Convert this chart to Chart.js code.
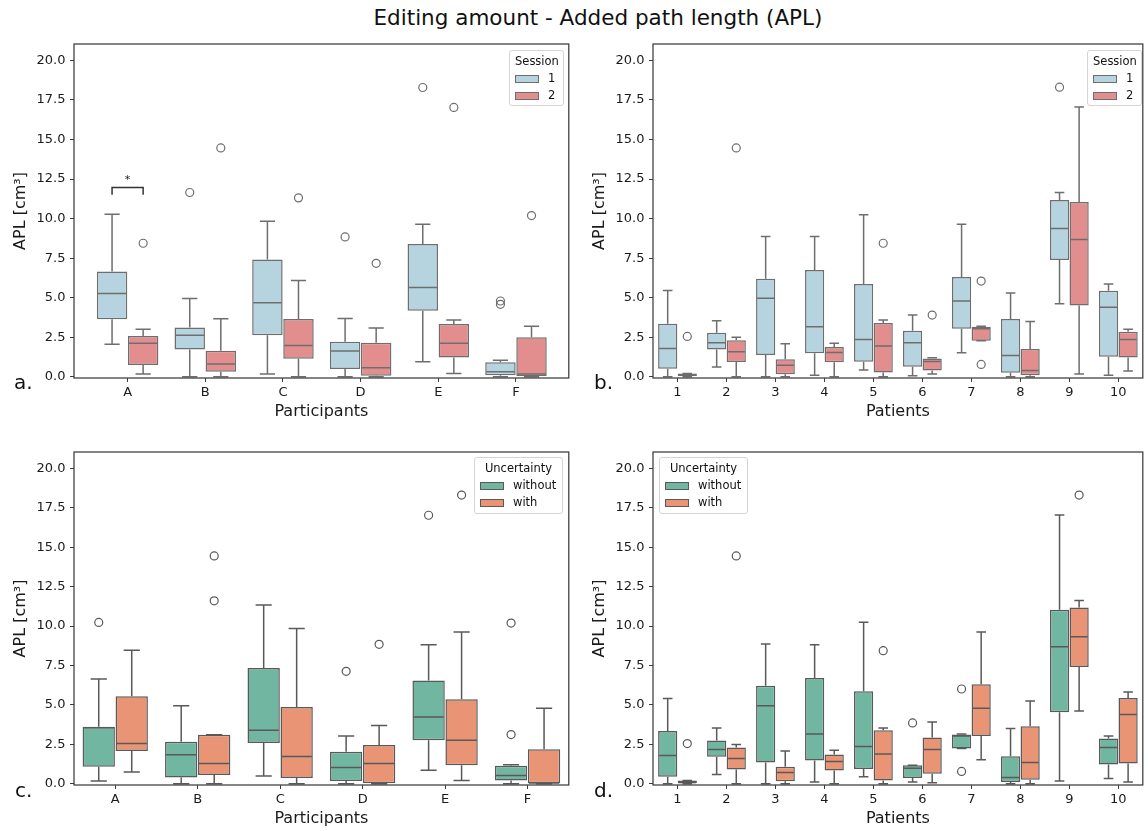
<!DOCTYPE html>
<html lang="en">
<head>
<meta charset="utf-8">
<title>Editing amount - Added path length (APL)</title>
<script src="https://cdn.jsdelivr.net/npm/chart.js"></script>
<style>
  body { margin: 0; background: #fff; font-family: "DejaVu Sans", sans-serif; color: #111; }
  #page { position: relative; width: 1148px; height: 831px; overflow: hidden; }
  canvas { position: absolute; }
  .title { position: absolute; top: 5px; left: 298px; width: 600px; text-align: center; font-size: 21.5px; line-height: 26px; white-space: nowrap; }
  .letter { position: absolute; font-size: 20px; line-height: 24px; }
  .legend { position: absolute; border: 1px solid #d4d4d4; border-radius: 3px; background: rgba(255,255,255,0.85);
            font-size: 11.5px; line-height: 17px; padding: 2px 5px 0 5px; box-sizing: border-box; }
  .legend .lt { text-align: center; }
  .legend .row { display: flex; align-items: center; white-space: nowrap; }
  .legend .sw { width: 24px; height: 8px; margin-right: 9px; border: 1px solid #666; box-sizing: border-box; }
</style>
</head>
<body>
<div id="page">
  <div class="title">Editing amount - Added path length (APL)</div>

  <canvas id="chartA" width="574" height="430" style="left:0;top:0"></canvas>
  <canvas id="chartB" width="574" height="430" style="left:574px;top:0"></canvas>
  <canvas id="chartC" width="574" height="401" style="left:0;top:430px"></canvas>
  <canvas id="chartD" width="574" height="401" style="left:574px;top:430px"></canvas>

  <div class="letter" style="left:14px;top:370px">a.</div>
  <div class="letter" style="left:594px;top:370px">b.</div>
  <div class="letter" style="left:15px;top:778px">c.</div>
  <div class="letter" style="left:594px;top:778px">d.</div>

  <div class="legend" style="left:509px;top:50px;width:55px;height:56px">
    <div class="lt">Session</div>
    <div class="row"><span class="sw" style="background:#b5d4df;border-color:#6e6e6e"></span>1</div>
    <div class="row"><span class="sw" style="background:#e28e8e;border-color:#6e6e6e"></span>2</div>
  </div>
  <div class="legend" style="left:1087px;top:50px;width:55px;height:56px">
    <div class="lt">Session</div>
    <div class="row"><span class="sw" style="background:#b5d4df;border-color:#6e6e6e"></span>1</div>
    <div class="row"><span class="sw" style="background:#e28e8e;border-color:#6e6e6e"></span>2</div>
  </div>
  <div class="legend" style="left:474px;top:457px;width:89px;height:57px">
    <div class="lt">Uncertainty</div>
    <div class="row"><span class="sw" style="background:#71b6a1;border-color:#595959"></span>without</div>
    <div class="row"><span class="sw" style="background:#e99575;border-color:#595959"></span>with</div>
  </div>
  <div class="legend" style="left:659px;top:457px;width:89px;height:57px">
    <div class="lt">Uncertainty</div>
    <div class="row"><span class="sw" style="background:#71b6a1;border-color:#595959"></span>without</div>
    <div class="row"><span class="sw" style="background:#e99575;border-color:#595959"></span>with</div>
  </div>
</div>

<script>
// categories
const participants = ['A', 'B', 'C', 'D', 'E', 'F'];
const patients = ['1', '2', '3', '4', '5', '6', '7', '8', '9', '10'];
const yTicks = [0, 2.5, 5, 7.5, 10, 12.5, 15, 17.5, 20];

// each box: [lower whisker, Q1, median, Q3, upper whisker]
// a. participants by session
const partSession1 = [[2.05, 3.63, 5.27, 6.65, 10.27], [0, 1.73, 2.62, 3.12, 4.94], [0.17, 2.62, 4.68, 7.41, 9.83],
                      [0, 0.49, 1.62, 2.22, 3.69], [0.95, 4.18, 5.65, 8.40, 9.64], [0, 0.10, 0.32, 0.91, 1.05]];
const partSession1Out = [[], [11.65], [], [8.84], [18.29], [4.79, 4.58]];
const partSession2 = [[0.17, 0.74, 2.11, 2.57, 3.0], [0, 0.32, 0.80, 1.65, 3.67], [0, 1.14, 1.98, 3.65, 6.08],
                      [0, 0.06, 0.57, 2.15, 3.08], [0.21, 1.22, 2.11, 3.33, 3.59], [0, 0.04, 0.17, 2.49, 3.2]];
const partSession2Out = [[8.44], [14.47], [11.31], [7.17], [17.03], [10.19]];

// b. patients by session
const patSession1 = [[0, 0.5, 1.79, 3.35, 5.46], [0.61, 1.73, 2.15, 2.78, 3.54], [0, 1.37, 4.96, 6.20, 8.86],
                     [0.1, 1.48, 3.16, 6.75, 8.86], [0.42, 0.95, 2.36, 5.86, 10.25], [0.06, 0.63, 2.15, 2.91, 3.90],
                     [1.52, 3.04, 4.79, 6.31, 9.64], [0, 0.25, 1.35, 3.65, 5.30], [4.62, 7.38, 9.37, 11.18, 11.65],
                     [0.1, 1.27, 4.39, 5.44, 5.86]];
const patSession1Out = [[], [], [], [], [], [], [], [], [18.31], []];
const patSession2 = [[0, 0.04, 0.1, 0.21, 0.21], [0, 0.93, 1.58, 2.30, 2.49], [0, 0.15, 0.72, 1.10, 2.09],
                     [0, 0.91, 1.54, 1.88, 2.11], [0, 0.27, 1.94, 3.40, 3.59], [0.17, 0.40, 0.97, 1.16, 1.20],
                     [2.28, 2.28, 3.04, 3.16, 3.2], [0, 0.1, 0.40, 1.75, 3.50], [0.17, 4.51, 8.67, 11.05, 17.05],
                     [0.36, 1.22, 2.36, 2.85, 3.0]];
const patSession2Out = [[2.55], [14.47], [], [], [8.44], [3.90], [6.05, 0.78], [], [], []];

// c. participants by uncertainty
const partWithout = [[0.17, 1.08, 3.55, 3.61, 6.65], [0, 0.40, 1.84, 2.66, 4.94], [0.49, 2.59, 3.40, 7.34, 11.33],
                     [0, 0.17, 1.03, 2.03, 3.02], [0.86, 2.76, 4.24, 6.54, 8.82], [0, 0.21, 0.53, 1.14, 1.20]];
const partWithoutOut = [[10.23], [], [], [7.13], [17.03], [3.12, 10.19]];
const partWith = [[0.74, 2.07, 2.55, 5.55, 8.46], [0, 0.55, 1.29, 3.10, 3.10], [0, 0.36, 1.73, 4.87, 9.85],
                  [0, 0, 1.29, 2.45, 3.69], [0.21, 1.18, 2.76, 5.36, 9.62], [0, 0, 0.04, 2.19, 4.79]];
const partWithOut = [[], [14.45, 11.60], [], [8.84], [18.31], []];

// d. patients by uncertainty
const patWithout = [[0, 0.44, 1.79, 3.35, 5.40], [0.59, 1.71, 2.17, 2.74, 3.54], [0, 1.35, 4.94, 6.22, 8.86],
                    [0.11, 1.48, 3.16, 6.71, 8.82], [0.44, 0.93, 2.36, 5.86, 10.25], [0.11, 0.36, 0.99, 1.18, 1.18],
                    [2.24, 2.24, 3.02, 3.12, 3.16], [0, 0.11, 0.40, 1.75, 3.50], [0.17, 4.54, 8.69, 11.03, 17.05],
                    [0.34, 1.22, 2.30, 2.87, 3.02]];
const patWithoutOut = [[], [], [], [], [], [3.86], [6.01, 0.78], [], [], []];
const patWith = [[0, 0, 0.08, 0.21, 0.21], [0, 0.91, 1.60, 2.30, 2.49], [0, 0.15, 0.72, 1.08, 2.07],
                 [0, 0.84, 1.41, 1.86, 2.13], [0, 0.21, 1.88, 3.40, 3.54], [0.06, 0.63, 2.17, 2.93, 3.92],
                 [1.52, 3.02, 4.79, 6.31, 9.62], [0, 0.25, 1.35, 3.65, 5.25], [4.62, 7.41, 9.32, 11.18, 11.62],
                 [0.11, 1.29, 4.39, 5.44, 5.82]];
const patWithOut = [[2.55], [14.45], [], [], [8.44], [], [], [], [18.31], []];

// significance marker in panel a (participant A, session 1 vs 2)
const sigA = { cat: 0, y: 11.96, drop: 0.46, label: '*' };

Chart.defaults.font.family = '"DejaVu Sans", sans-serif';
Chart.defaults.color = '#1a1a1a';

// whiskers, caps and medians on top of the floating bars
const boxWhiskers = {
  id: 'boxWhiskers',
  afterDatasetsDraw(chart) {
    const ctx = chart.ctx;
    const yS = chart.scales.y;
    chart.data.datasets.forEach((ds, di) => {
      if (!ds.stats) return;
      const meta = chart.getDatasetMeta(di);
      ctx.save();
      ctx.strokeStyle = ds.borderColor;
      ctx.lineWidth = 1.5;
      meta.data.forEach((bar, i) => {
        const s = ds.stats[i];
        const p = bar.getProps(['x', 'width'], true);
        const cap = p.width / 4;
        const yLo = yS.getPixelForValue(s[0]), yQ1 = yS.getPixelForValue(s[1]);
        const yMed = yS.getPixelForValue(s[2]);
        const yQ3 = yS.getPixelForValue(s[3]), yHi = yS.getPixelForValue(s[4]);
        ctx.beginPath();
        ctx.moveTo(p.x, yQ1); ctx.lineTo(p.x, yLo);
        ctx.moveTo(p.x - cap, yLo); ctx.lineTo(p.x + cap, yLo);
        ctx.moveTo(p.x, yQ3); ctx.lineTo(p.x, yHi);
        ctx.moveTo(p.x - cap, yHi); ctx.lineTo(p.x + cap, yHi);
        ctx.moveTo(p.x - p.width / 2 + 1, yMed); ctx.lineTo(p.x + p.width / 2 - 1, yMed);
        ctx.stroke();
      });
      ctx.restore();
    });

    const sig = chart.options.plugins.sigBracket;
    if (sig && sig.label) {
      const b1 = chart.getDatasetMeta(0).data[sig.cat];
      const b2 = chart.getDatasetMeta(1).data[sig.cat];
      const yTop = yS.getPixelForValue(sig.y), yBot = yS.getPixelForValue(sig.y - sig.drop);
      ctx.save();
      ctx.strokeStyle = '#333';
      ctx.lineWidth = 1.5;
      ctx.beginPath();
      ctx.moveTo(b1.x, yBot); ctx.lineTo(b1.x, yTop); ctx.lineTo(b2.x, yTop); ctx.lineTo(b2.x, yBot);
      ctx.stroke();
      ctx.fillStyle = '#1a1a1a';
      ctx.font = '11px "DejaVu Sans"';
      ctx.textAlign = 'center';
      ctx.textBaseline = 'bottom';
      ctx.fillText(sig.label, (b1.x + b2.x) / 2, yTop - 2);
      ctx.restore();
    }
  }
};

// full box around the axes like matplotlib
const frame = {
  id: 'frame',
  afterDraw(chart) {
    const a = chart.chartArea;
    const ctx = chart.ctx;
    ctx.save();
    ctx.strokeStyle = '#3c3c3c';
    ctx.lineWidth = 1.25;
    ctx.strokeRect(a.left, a.top, a.right - a.left, a.bottom - a.top);
    ctx.restore();
  }
};

function boxSet(label, boxes, color, edge) {
  return {
    type: 'bar',
    label: label,
    data: boxes.map((b, i) => ({ x: i, y: [b[1], b[3]] })),
    stats: boxes,
    backgroundColor: color,
    borderColor: edge,
    borderWidth: 1.5,
    borderSkipped: false,
    categoryPercentage: 0.8,
    barPercentage: 0.98,
    order: 2
  };
}

function outlierSet(outs, offset, edge) {
  const pts = [];
  outs.forEach((vals, i) => vals.forEach(v => pts.push({ x: i + offset, y: v })));
  return {
    type: 'scatter',
    data: pts,
    pointRadius: 4,
    pointBorderWidth: 1.2,
    borderColor: edge,
    backgroundColor: 'rgba(0,0,0,0)',
    order: 1
  };
}

function makePanel(id, p) {
  const cats = p.cats;
  new Chart(document.getElementById(id), {
    data: {
      datasets: [
        boxSet(p.names[0], p.s1, p.colors[0], p.edge),
        boxSet(p.names[1], p.s2, p.colors[1], p.edge),
        outlierSet(p.o1, -0.2, p.edge),
        outlierSet(p.o2, 0.2, p.edge)
      ]
    },
    options: {
      responsive: false,
      animation: false,
      layout: { padding: { top: p.padTop, right: p.padRight, left: 0, bottom: 0 } },
      plugins: {
        legend: { display: false },
        tooltip: { enabled: false },
        sigBracket: p.sig || {}
      },
      scales: {
        x: {
          type: 'linear',
          min: p.xMin,
          max: p.xMax,
          bounds: 'data',
          offset: false,
          afterBuildTicks: (s) => { s.ticks = cats.map((c, i) => ({ value: i })); },
          afterFit: (s) => { s.height = p.xHeight; },
          ticks: { autoSkip: false, maxRotation: 0, padding: 3, font: { size: 13 },
                   callback: (v) => cats[v] },
          grid: { display: true, offset: false, drawOnChartArea: false, drawTicks: true, tickLength: 4, color: '#3c3c3c' },
          border: { display: false },
          title: { display: true, text: p.xTitle, font: { size: 16 }, padding: { top: 0, bottom: p.xTitlePad } }
        },
        y: {
          type: 'linear',
          min: -0.08,
          max: 21.04,
          bounds: 'data',
          afterBuildTicks: (s) => { s.ticks = yTicks.map(v => ({ value: v })); },
          afterFit: (s) => { s.width = p.yWidth; },
          ticks: { padding: 4.5, font: { size: 13 }, callback: (v) => v.toFixed(1) },
          grid: { display: true, drawOnChartArea: false, drawTicks: true, tickLength: 4, color: '#3c3c3c' },
          border: { display: false },
          title: { display: true, text: 'APL [cm³]', font: { size: 16 }, padding: { top: p.yTitlePad, bottom: 0 } }
        }
      }
    },
    plugins: [boxWhiskers, frame]
  });
}

const sessionColors = ['#b5d4df', '#e28e8e'];
const uncertColors = ['#71b6a1', '#e99575'];

makePanel('chartA', { cats: participants, names: ['1', '2'], s1: partSession1, o1: partSession1Out,
  s2: partSession2, o2: partSession2Out, colors: sessionColors, edge: '#6e6e6e',
  xMin: -0.69, xMax: 5.68, xTitle: 'Participants', sig: sigA,
  padTop: 44, padRight: 5, yWidth: 74, xHeight: 52, xTitlePad: 9, yTitlePad: 11 });

makePanel('chartB', { cats: patients, names: ['1', '2'], s1: patSession1, o1: patSession1Out,
  s2: patSession2, o2: patSession2Out, colors: sessionColors, edge: '#6e6e6e',
  xMin: -0.5, xMax: 9.5, xTitle: 'Patients',
  padTop: 44, padRight: 1, yWidth: 79, xHeight: 52, xTitlePad: 9, yTitlePad: 16 });

makePanel('chartC', { cats: participants, names: ['without', 'with'], s1: partWithout, o1: partWithoutOut,
  s2: partWith, o2: partWithOut, colors: uncertColors, edge: '#595959',
  xMin: -0.5, xMax: 5.5, xTitle: 'Participants',
  padTop: 22, padRight: 5, yWidth: 74, xHeight: 46, xTitlePad: 3, yTitlePad: 11 });

makePanel('chartD', { cats: patients, names: ['without', 'with'], s1: patWithout, o1: patWithoutOut,
  s2: patWith, o2: patWithOut, colors: uncertColors, edge: '#595959',
  xMin: -0.5, xMax: 9.5, xTitle: 'Patients',
  padTop: 22, padRight: 1, yWidth: 79, xHeight: 46, xTitlePad: 3, yTitlePad: 16 });
</script>
</body>
</html>
